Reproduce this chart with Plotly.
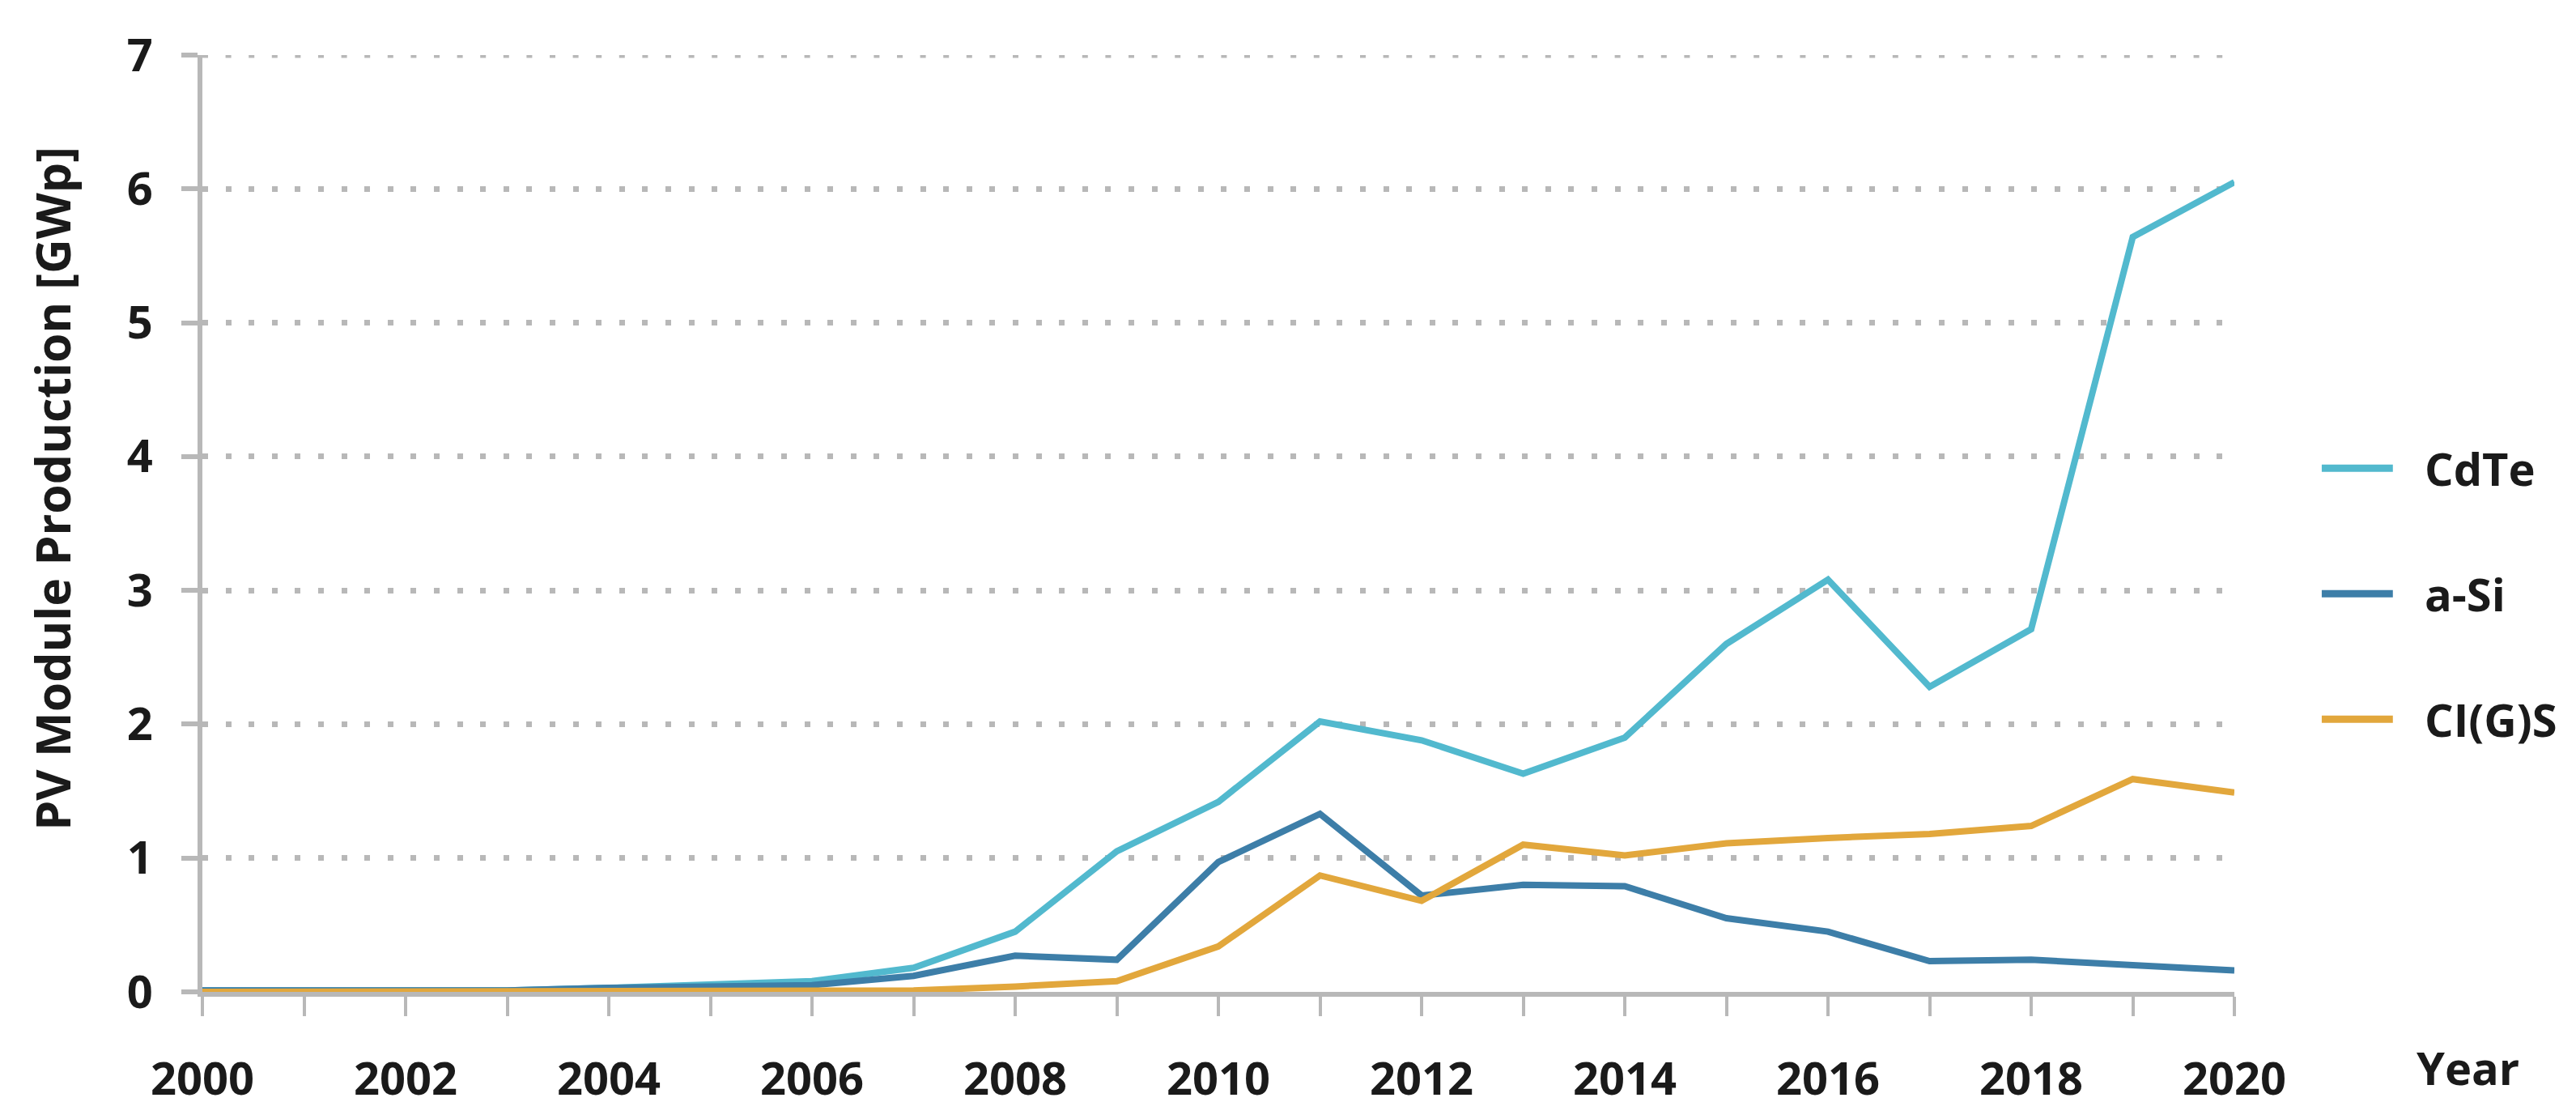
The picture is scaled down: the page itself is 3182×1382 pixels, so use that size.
import plotly.graph_objects as go

years = list(range(2000, 2021))
cdte = [0.01, 0.01, 0.01, 0.01, 0.03, 0.05, 0.08, 0.18, 0.45, 1.05, 1.42,
        2.02, 1.88, 1.63, 1.90, 2.60, 3.08, 2.28, 2.71, 5.64, 6.05]
asi = [0.01, 0.01, 0.02, 0.01, 0.03, 0.04, 0.05, 0.12, 0.27, 0.24, 0.97,
       1.33, 0.72, 0.80, 0.79, 0.55, 0.45, 0.23, 0.24, 0.20, 0.16]
cigs = [0.0, 0.0, 0.0, 0.0, 0.0, 0.01, 0.01, 0.01, 0.04, 0.08, 0.34,
        0.87, 0.68, 1.10, 1.02, 1.11, 1.15, 1.18, 1.24, 1.59, 1.49]
series_names = ["CdTe", "a-Si", "CI(G)S"]
series_colors = ["#52b9ce", "#3d7ea8", "#e2a73c"]
x_tick_vals = years
x_tick_text = [str(y) if y % 2 == 0 else "" for y in years]
y_tick_vals = [0, 1, 2, 3, 4, 5, 6, 7]
y_title = "PV Module Production [GWp]"
x_title = "Year"

FONT = "Open Sans"
TXT = "#1a1a1a"
GRID = "#b8b8b8"

fig = go.Figure()
for i, (name, vals) in enumerate(zip(series_names, [cdte, asi, cigs])):
    fig.add_trace(go.Scatter(
        x=years, y=vals, mode="lines", name=name,
        line=dict(color=series_colors[i], width=8),
        showlegend=False,
    ))

# legend drawn as shapes + labels (long line symbols as in the original)
legend_y = [0.559, 0.425, 0.291]
shapes = []
annotations = []
for i, name in enumerate(series_names):
    shapes.append(dict(type="line", xref="paper", yref="paper",
                       x0=1.043, x1=1.078, y0=legend_y[i], y1=legend_y[i],
                       line=dict(color=series_colors[i], width=9)))
    annotations.append(dict(text="<b>%s</b>" % name, x=1.093, y=legend_y[i],
                            xref="paper", yref="paper", xanchor="left", yanchor="middle",
                            showarrow=False, font=dict(family=FONT, size=56, color=TXT)))

# top gridline at y=7 (plotly omits a gridline at the range edge)
shapes.append(dict(type="line", xref="x", yref="y", x0=2000, x1=2020, y0=7, y1=7,
                   line=dict(color=GRID, width=7, dash="7px,21.6px"), layer="below"))

annotations.append(dict(
    text="<b>%s</b>" % x_title, x=1.115, y=-0.08, xref="paper", yref="paper",
    xanchor="center", yanchor="middle", showarrow=False,
    font=dict(family=FONT, size=56, color=TXT),
))
annotations.append(dict(
    text="<b>%s</b>" % y_title, x=-0.0741, y=0.537, xref="paper", yref="paper",
    xanchor="center", yanchor="middle", showarrow=False, textangle=-90,
    font=dict(family=FONT, size=59, color=TXT),
))

fig.update_layout(
    width=3182, height=1382,
    margin=dict(l=242, r=430, t=60, b=165),
    paper_bgcolor="white", plot_bgcolor="white",
    font=dict(family=FONT, size=56, color=TXT),
    showlegend=False,
    shapes=shapes,
    annotations=annotations,
)

fig.update_xaxes(
    range=[2000, 2020], tickmode="array", tickvals=x_tick_vals, ticktext=x_tick_text,
    showgrid=False, zeroline=False,
    showline=True, linecolor="#b8b8b8", linewidth=6,
    ticks="outside", ticklen=24, tickwidth=4, tickcolor="#b8b8b8",
    ticklabelstandoff=30,
    tickfont=dict(family=FONT, size=56, color=TXT, weight="bold"),
)
fig.update_yaxes(
    range=[0, 7], tickmode="array", tickvals=y_tick_vals,
    showgrid=True, gridcolor=GRID, gridwidth=7, griddash="7px,21.6px",
    zeroline=False,
    showline=True, linecolor="#b8b8b8", linewidth=6,
    ticks="outside", ticklen=20, tickwidth=6, tickcolor=GRID,
    ticklabelstandoff=24,
    tickfont=dict(family=FONT, size=56, color=TXT, weight="bold"),
)

fig.write_html("out.html")
